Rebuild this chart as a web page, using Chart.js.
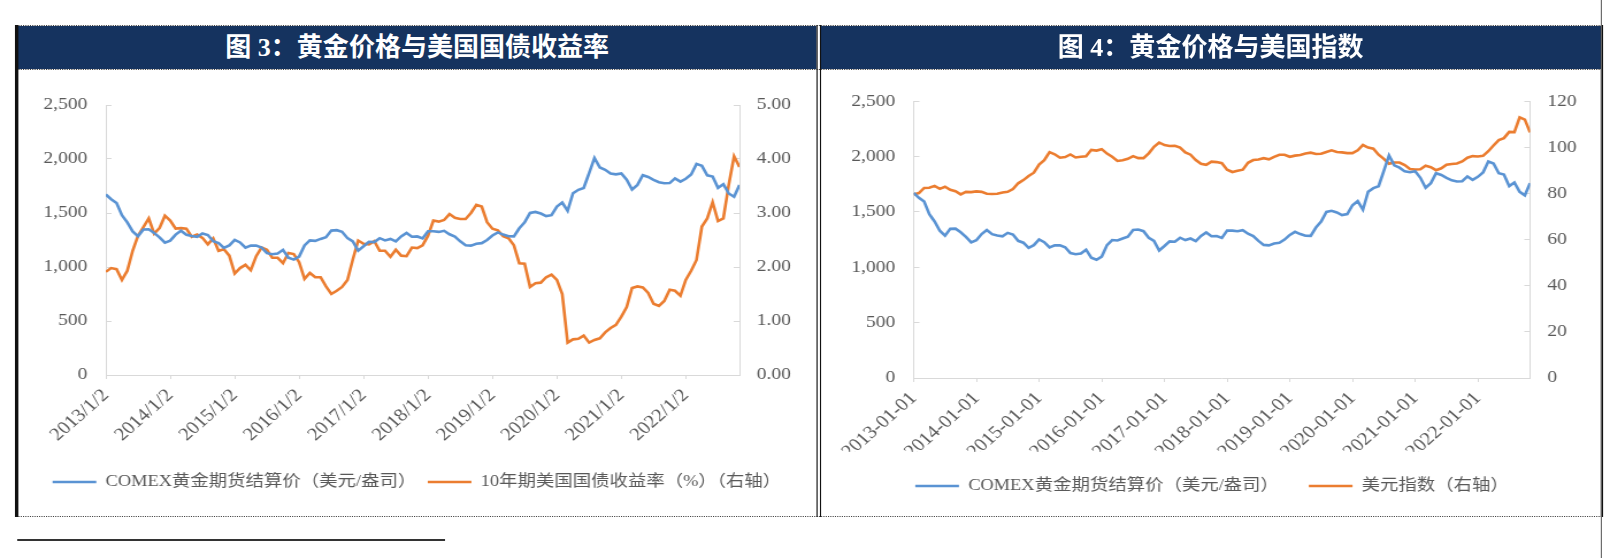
<!DOCTYPE html>
<html lang="zh">
<head>
<meta charset="utf-8">
<title>图 3 / 图 4</title>
<script src="https://cdn.jsdelivr.net/npm/chart.js@4.4.1/dist/chart.umd.min.js"></script>
<style>
  html, body { margin: 0; padding: 0; background: #fff; }
  body { width: 1620px; height: 558px; overflow: hidden; position: relative; }
  /* 原图整体横向拉伸约 1.15 倍，这里按拉伸前的尺寸排版 */
  #page { position: absolute; left: 0; top: 0; width: 1409px; height: 558px;
          transform: scaleX(1.15); transform-origin: 0 0; }
  .head { position: absolute; top: 26px; height: 43px; background: #15335f; color: #fff;
          font: bold 26px "Liberation Serif", "Noto Sans CJK SC", serif;
          line-height: 43px; text-align: center; }
  /* 标题字体偏窄 */
  .head span { display: inline-block; transform: scaleX(0.87); }
  .dots { position: absolute; height: 0; border-top: 1px dotted #444; }
  .vline { position: absolute; background: #111; }
  .box { position: absolute; top: 70px; height: 446px; }
</style>
</head>
<body>
<div id="page">
  <div class="head" style="left:15px;width:695px"><span>图 3：黄金价格与美国国债收益率</span></div>
  <div class="head" style="left:713px;width:680px"><span>图 4：黄金价格与美国指数</span></div>

  <div class="dots" style="left:13px;width:1380px;top:25px"></div>
  <div class="dots" style="left:13px;width:1380px;top:69px"></div>
  <div class="dots" style="left:13px;width:1380px;top:516px"></div>

  <div class="vline" style="left:13px;top:25px;width:2.5px;height:492px"></div>
  <div class="vline" style="left:710px;top:25px;width:1px;height:492px"></div>
  <div class="vline" style="left:712.5px;top:25px;width:1px;height:492px"></div>
  <div class="vline" style="left:1392px;top:25px;width:2px;height:492px"></div>
  <div class="vline" style="left:1392px;top:0;width:1px;height:558px;background:#666"></div>
  <div class="vline" style="left:15px;top:539px;width:372px;height:1.5px;background:#333"></div>

  <div class="box" style="left:15px;width:695px"><canvas id="chart3"></canvas></div>
  <div class="box" style="left:713.5px;width:680px"><canvas id="chart4"></canvas></div>
</div>

<script>
// 横轴刻度（每年一个，对应月序号 0, 12, 24 ...）
const yearTicks3 = ["2013/1/2", "2014/1/2", "2015/1/2", "2016/1/2", "2017/1/2",
  "2018/1/2", "2019/1/2", "2020/1/2", "2021/1/2", "2022/1/2"];
const yearTicks4 = ["2013-01-01", "2014-01-01", "2015-01-01", "2016-01-01", "2017-01-01",
  "2018-01-01", "2019-01-01", "2020-01-01", "2021-01-01", "2022-01-01"];

// COMEX黄金期货结算价（美元/盎司），2013-01 至 2022-11 按月读数
const goldPrice = [
  1671, 1627, 1593, 1480, 1414, 1330, 1286, 1347, 1349, 1316, 1275, 1225,
  1244, 1300, 1336, 1299, 1287, 1279, 1311, 1296, 1239, 1222, 1176, 1200,
  1251, 1227, 1179, 1198, 1199, 1181, 1128, 1118, 1125, 1159, 1086, 1068,
  1097, 1200, 1246, 1242, 1260, 1276, 1337, 1341, 1326, 1267, 1238, 1152,
  1192, 1234, 1231, 1267, 1246, 1260, 1237, 1283, 1315, 1280, 1283, 1265,
  1331, 1331, 1325, 1335, 1303, 1282, 1238, 1202, 1198, 1215, 1221, 1250,
  1292, 1320, 1300, 1285, 1284, 1359, 1413, 1500, 1510, 1495, 1471, 1480,
  1560, 1597, 1520, 1683, 1715, 1732, 1870, 2010, 1921, 1900, 1866, 1858,
  1867, 1808, 1718, 1760, 1850, 1834, 1807, 1785, 1775, 1777, 1821, 1790,
  1817, 1856, 1955, 1937, 1849, 1837, 1733, 1766, 1681, 1650, 1760,
];

// 10年期美国国债收益率（%）
const ust10y = [
  1.91, 1.98, 1.96, 1.76, 1.93, 2.30, 2.58, 2.74, 2.90, 2.62, 2.72, 2.95,
  2.86, 2.71, 2.72, 2.71, 2.56, 2.60, 2.54, 2.42, 2.53, 2.30, 2.33, 2.21,
  1.88, 1.98, 2.04, 1.94, 2.20, 2.36, 2.32, 2.17, 2.17, 2.07, 2.26, 2.24,
  2.09, 1.78, 1.89, 1.81, 1.81, 1.64, 1.50, 1.56, 1.63, 1.76, 2.14, 2.49,
  2.43, 2.42, 2.48, 2.30, 2.30, 2.19, 2.32, 2.21, 2.20, 2.36, 2.35, 2.40,
  2.58, 2.86, 2.84, 2.87, 2.98, 2.91, 2.89, 2.89, 3.00, 3.15, 3.12, 2.83,
  2.71, 2.68, 2.57, 2.53, 2.40, 2.07, 2.06, 1.63, 1.70, 1.71, 1.81, 1.86,
  1.76, 1.50, 0.60, 0.66, 0.67, 0.73, 0.60, 0.65, 0.68, 0.79, 0.87, 0.93,
  1.08, 1.26, 1.61, 1.64, 1.62, 1.52, 1.32, 1.28, 1.37, 1.58, 1.56, 1.47,
  1.76, 1.93, 2.13, 2.75, 2.90, 3.20, 2.85, 2.90, 3.52, 4.05, 3.85,
];

// 美元指数
const dollarIndex = [
  79.6, 80.2, 82.4, 82.5, 83.3, 82.0, 82.9, 81.6, 81.0, 79.6, 80.7, 80.6,
  80.9, 80.7, 79.9, 79.8, 79.9, 80.4, 80.7, 81.9, 84.4, 85.8, 87.6, 89.0,
  92.5, 94.4, 97.9, 97.0, 95.5, 95.8, 96.9, 95.6, 95.9, 96.1, 98.9, 98.6,
  99.2, 97.3, 95.9, 94.1, 94.4, 95.0, 96.2, 95.3, 95.3, 97.4, 100.2, 102.1,
  101.0, 100.6, 100.7, 99.9, 97.8, 96.8, 94.5, 92.9, 92.4, 93.8, 93.6, 93.1,
  90.3, 89.3, 89.8, 90.3, 93.3, 94.5, 94.7, 95.3, 94.8, 95.9, 96.8, 96.8,
  95.9, 96.4, 96.7, 97.3, 97.7, 97.1, 97.2, 98.0, 98.7, 98.0, 97.8, 97.5,
  97.5, 98.7, 101.0, 99.9, 99.4, 96.8, 95.0, 92.9, 93.4, 93.4, 92.3, 90.6,
  90.4, 90.5, 92.0, 91.4, 90.1, 90.9, 92.5, 92.8, 93.0, 93.9, 95.5, 96.2,
  96.0, 96.3, 98.3, 100.8, 103.1, 104.0, 106.7, 106.6, 113.0, 112.0, 106.5,
];

const FONT = '"Liberation Serif", "Noto Sans CJK SC", serif';
const TEXT = "#595959";
const AXIS = "#d9d9d9";
const BLUE = "#5a93d3";
const ORANGE = "#eb7d30";
const LINE_W = 2.6;

// 月序号 -> 点
function toPoints(values) {
  return values.map((v, i) => ({ x: i, y: v }));
}

function buildChart(id, o) {
  const lastIndex = o.left.length - 1;
  return new Chart(document.getElementById(id), {
    type: "line",
    data: {
      datasets: [
        { label: o.leftLabel, data: toPoints(o.left), borderColor: BLUE, backgroundColor: BLUE,
          borderWidth: LINE_W, yAxisID: "y" },
        { label: o.rightLabel, data: toPoints(o.right), borderColor: ORANGE, backgroundColor: ORANGE,
          borderWidth: LINE_W, yAxisID: "y1" },
      ],
    },
    options: {
      responsive: true,
      maintainAspectRatio: false,
      animation: false,
      layout: { padding: { top: o.padTop, bottom: o.padBottom, left: 0, right: 0 } },
      elements: {
        point: { radius: 0 },
        line: { tension: 0 },
      },
      plugins: {
        tooltip: { enabled: false },
        legend: {
          position: "bottom",
          labels: {
            usePointStyle: true,
            pointStyle: "line",
            pointStyleWidth: 38,
            padding: o.legendGap,
            color: TEXT,
            font: { family: FONT, size: 16 },
          },
        },
      },
      scales: {
        x: {
          type: "linear",
          min: 0,
          max: lastIndex,
          afterFit: (s) => { s.height = o.xHeight; },
          grid: { drawOnChartArea: false, color: AXIS, tickLength: 4 },
          border: { color: AXIS },
          ticks: {
            stepSize: 12,
            autoSkip: false,
            includeBounds: false,
            minRotation: 45,
            maxRotation: 45,
            padding: 6,
            color: TEXT,
            font: { family: FONT, size: 18 },
            callback: (v) => o.years[v / 12] || "",
          },
        },
        y: {
          position: "left",
          min: 0,
          max: 2500,
          afterFit: (s) => { s.width = o.leftWidth; },
          grid: { drawOnChartArea: false, color: AXIS, tickLength: -5 },
          border: { color: AXIS },
          ticks: {
            stepSize: 500,
            padding: 21,
            color: TEXT,
            font: { family: FONT, size: 17 },
            callback: (v) => v.toLocaleString("en-US"),
          },
        },
        y1: {
          position: "right",
          min: 0,
          max: o.rightMax,
          afterFit: (s) => { s.width = o.rightWidth; },
          grid: { drawOnChartArea: false, color: AXIS, tickLength: -5 },
          border: { color: AXIS },
          ticks: {
            stepSize: o.rightStep,
            padding: 20,
            color: TEXT,
            font: { family: FONT, size: 17 },
            callback: (v) => v.toFixed(o.rightDecimals),
          },
        },
      },
    },
  });
}

// 图 3：黄金价格与美国国债收益率
buildChart("chart3", {
  left: goldPrice,
  right: ust10y,
  leftLabel: "COMEX黄金期货结算价（美元/盎司）",
  rightLabel: "10年期美国国债收益率（%）（右轴）",
  years: yearTicks3,
  rightMax: 5,
  rightStep: 1,
  rightDecimals: 2,
  leftWidth: 77,
  rightWidth: 67,
  padTop: 35,
  padBottom: 16,
  xHeight: 89,
  legendGap: 10,
});

// 图 4：黄金价格与美国指数
buildChart("chart4", {
  left: goldPrice,
  right: dollarIndex,
  leftLabel: "COMEX黄金期货结算价（美元/盎司）",
  rightLabel: "美元指数（右轴）",
  years: yearTicks4,
  rightMax: 120,
  rightStep: 20,
  rightDecimals: 0,
  leftWidth: 80.5,
  rightWidth: 63.5,
  padTop: 28,
  padBottom: 12,
  xHeight: 74,
  legendGap: 26,
});
</script>
</body>
</html>
